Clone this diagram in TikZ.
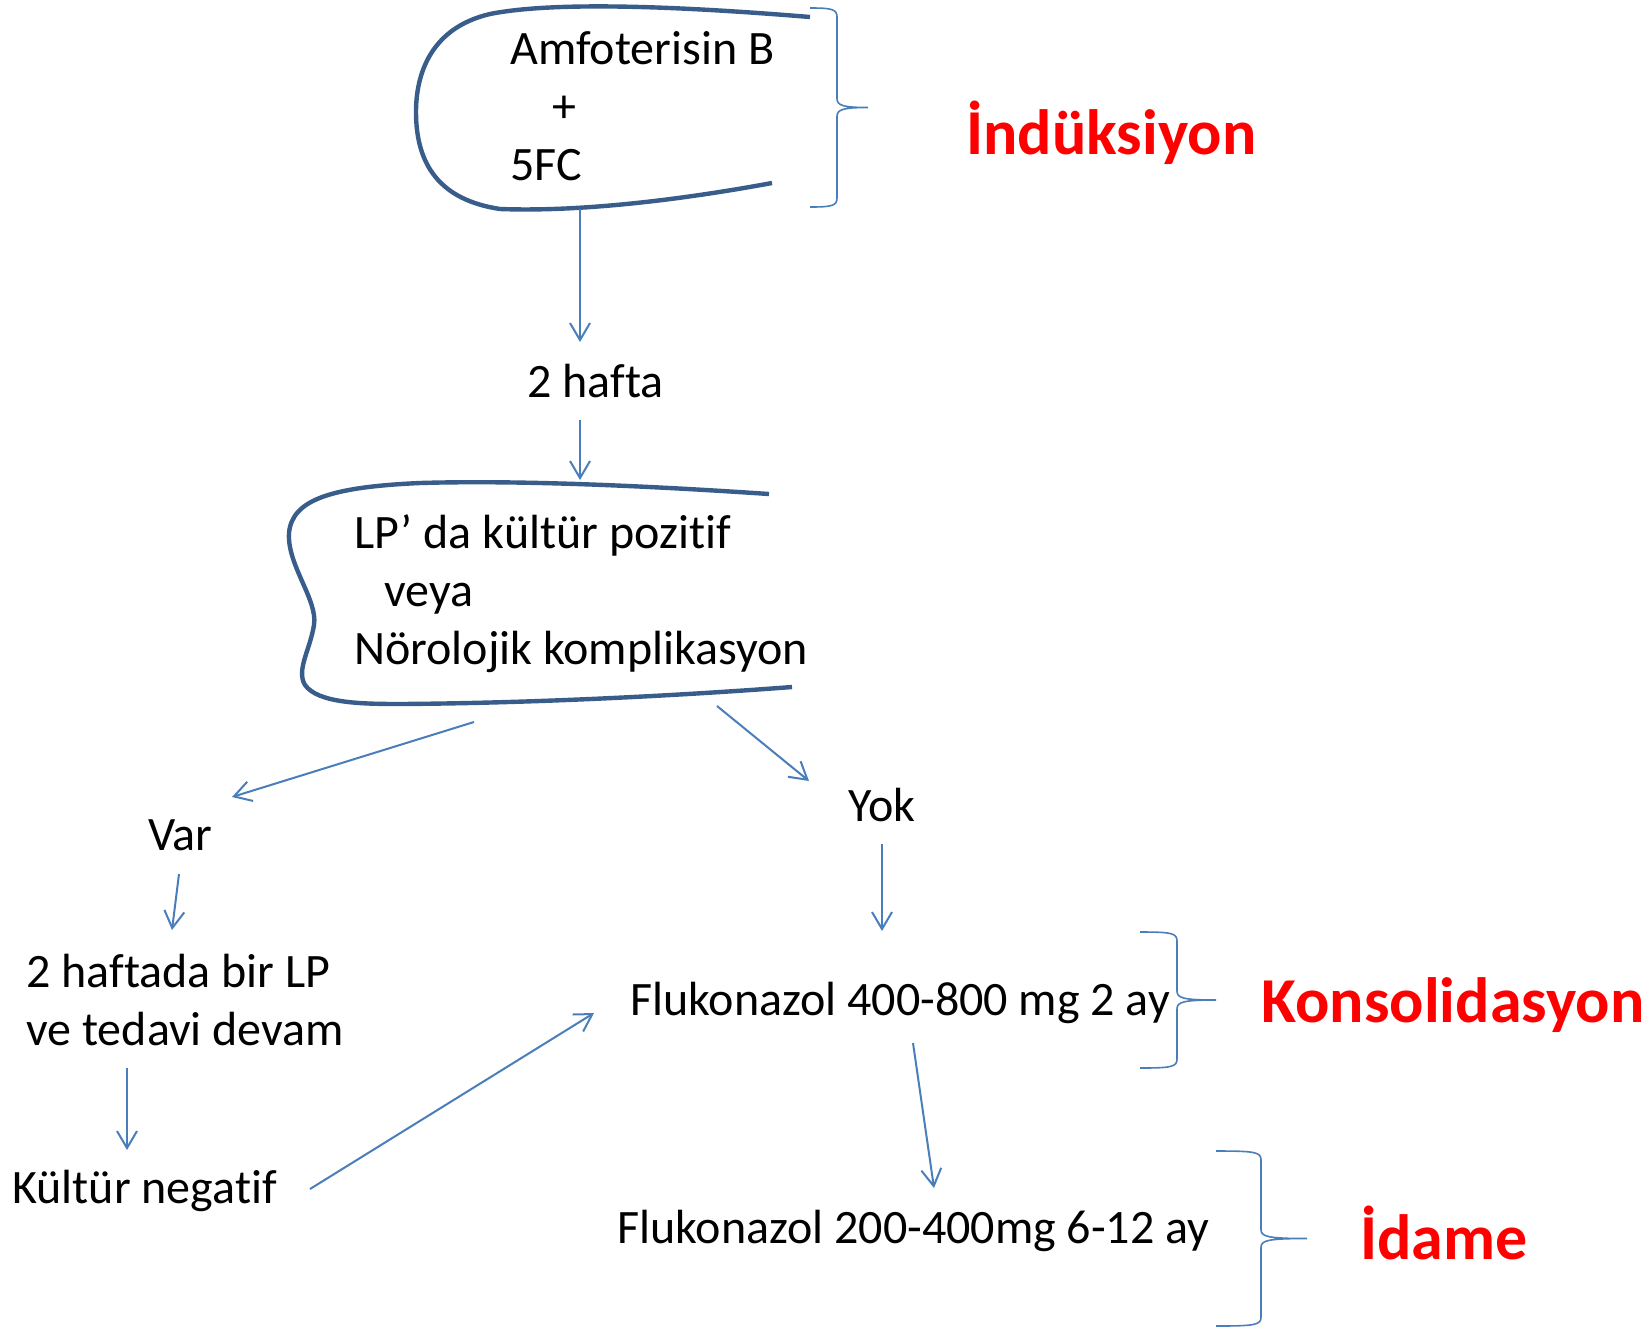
\documentclass[tikz,border=0pt]{standalone}
\usepackage{fontspec}
\setmainfont{Carlito}[Ligatures = NoCommon]
\usepackage{xcolor}
\usepackage{tikz}
\usetikzlibrary{arrows.meta}

\definecolor{edgeblue}{RGB}{74,126,187}
\definecolor{shapeblue}{RGB}{56,93,138}

\newcommand{\phasebrace}[5]{%
  \pgfmathsetmacro\bmid{(#4+#5)/2}
  \draw [brc] (#1,#4) .. controls (#2-6,#4) and (#2,#4+1) .. (#2,#4+9)
    -- (#2,\bmid-9) .. controls (#2,\bmid-2) and (#2+6,\bmid) .. (#3,\bmid)
    .. controls (#2+6,\bmid) and (#2,\bmid+2) .. (#2,\bmid+9)
    -- (#2,#5-9) .. controls (#2,#5-1) and (#2-6,#5) .. (#1,#5);}

\begin{document}
\begin{tikzpicture} [x = 0.5pt, y = -0.5pt,
    txt/.style = {inner sep = 0pt, align = left, anchor = base west,
      font = \fontsize{24}{29}\selectfont},
    phase/.style = {inner sep = 0pt, anchor = base west, text = red,
      font = \fontsize{32}{36}\selectfont\bfseries},
    flow/.style = {draw = edgeblue, line width = 1pt,
      -{Straight Barb[length = 8.5pt, width = 10pt]}},
    openbox/.style = {draw = shapeblue, line width = 2.2pt},
    brc/.style = {draw = edgeblue, line width = 0.8pt}]

        \path [fill = white, use as bounding box] (0,0) rectangle (1652,1328);

        \node (amfo) [txt] at (510,180) {Amfoterisin B\\\hspace*{21pt}+\\5FC};
        \node (hafta) [txt] at (527,397) {2 hafta};
        \node (lp) [txt] at (354,664) {LP’ da kültür pozitif\\\hspace*{15pt}veya\\Nörolojik komplikasyon};
        \node (var) [txt] at (148,850) {Var}; \node (yok) [txt] at (848,821) {Yok};
        \node (every) [txt] at (26,1045) {2 haftada bir LP\\ve tedavi devam};
        \node (kneg) [txt] at (12,1203) {Kültür negatif};
        \node (fluk1) [txt] at (630,1015) {Flukonazol 400-800 mg 2 ay};
        \node (fluk2) [txt] at (617,1243) {Flukonazol 200-400mg 6-12 ay};
        \node (induk) [phase] at (966,154) {İndüksiyon};
        \node (konsol) [phase] at (1261,1022) {Konsolidasyon};
        \node (idame) [phase] at (1360,1259) {İdame};

        \draw [openbox] (810,17) .. controls (700,8) and (560,0) .. (490,14)
          .. controls (430,28) and (416,75) .. (416,112)
          .. controls (416,165) and (440,200) .. (500,209)
          .. controls (580,212) and (680,200) .. (772,183);
        \draw [openbox] (769,494) .. controls (650,486) and (520,480) .. (420,483)
          .. controls (330,487) and (292,500) .. (289,533)
          .. controls (287,565) and (318,600) .. (314,625)
          .. controls (310,650) and (296,670) .. (305,685)
          .. controls (318,703) and (360,704) .. (400,704)
          .. controls (550,703) and (700,694) .. (792,687);

        \coordinate (ind-out) at (580,209); \coordinate (lp-in) at (580,480);
        \coordinate (lp-left) at (474,722); \coordinate (lp-right) at (717,706);

        \path [every edge/.style = {flow}]
         (ind-out) edge ([shift={(53,-55)}]hafta.base west)
         ([shift={(53,23)}]hafta.base west) edge (lp-in)
         (lp-left) edge ([shift={(84,-53)}]var.base west)
         (lp-right) edge ([shift={(-39,-40)}]yok.base west)
         ([shift={(31,24)}]var.base west) edge ([shift={(146,-115)}]every.base west)
         ([shift={(101,23)}]every.base west) edge ([shift={(115,-53)}]kneg.base west)
         ([shift={(298,-14)}]kneg.base west) edge ([shift={(-36,-2)}]fluk1.base west)
         ([shift={(34,23)}]yok.base west) edge ([shift={(252,-84)}]fluk1.base west)
         ([shift={(283,28)}]fluk1.base west) edge ([shift={(317,-55)}]fluk2.base west);

        \phasebrace{810}{837}{868}{8}{207}
        \phasebrace{1140}{1177}{1216}{932}{1068}
        \phasebrace{1216}{1261}{1307}{1151}{1326}

    \end{tikzpicture}
\end{document}
